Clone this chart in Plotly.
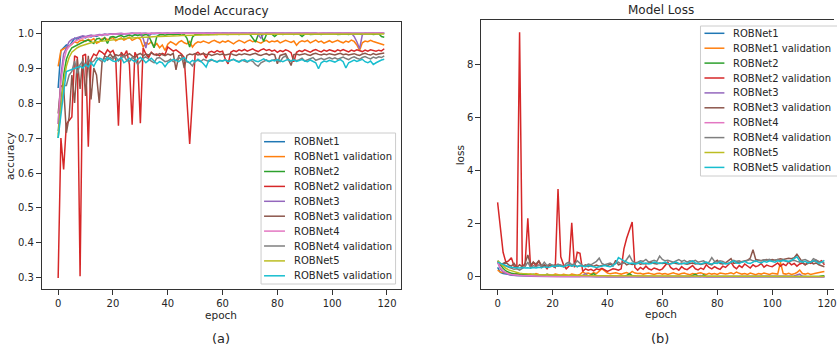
import plotly.graph_objects as go

W, H = 837, 350
FONT = "DejaVu Sans"
TXT = "#262626"

epochs = list(range(120))

series_names = ["ROBNet1", "ROBNet1 validation", "ROBNet2", "ROBNet2 validation",
                "ROBNet3", "ROBNet3 validation", "ROBNet4", "ROBNet4 validation",
                "ROBNet5", "ROBNet5 validation"]
series_colors = ["#1f77b4", "#ff7f0e", "#2ca02c", "#d62728", "#9467bd",
                 "#8c564b", "#e377c2", "#7f7f7f", "#bcbd22", "#17becf"]

# ---------------- accuracy ----------------
acc_r1 = [0.843, 0.950, 0.958, 0.966, 0.962, 0.975, 0.985, 0.982, 0.988, 0.990, 0.986, 0.991, 0.989, 0.993, 0.990, 0.994, 0.993, 0.996, 0.995, 0.997,
          0.996, 0.997, 0.998, 0.996, 0.998, 0.997, 0.998, 0.999, 0.997, 0.998, 0.999, 0.998, 0.999, 0.997, 0.999, 0.998, 0.999, 0.999, 0.998, 0.999,
          0.999, 0.998, 0.999, 0.999, 1.000, 0.999, 0.998, 0.999, 0.999, 1.000, 0.999, 0.999, 0.998, 0.999, 1.000, 0.999, 0.999, 1.000, 0.999, 0.999,
          1.000, 0.999, 0.999, 1.000, 0.999, 0.998, 0.999, 1.000, 0.999, 0.999, 1.000, 0.999, 0.999, 1.000, 0.999, 0.999, 1.000, 0.999, 0.998, 0.999,
          0.999, 1.000, 0.999, 0.999, 1.000, 0.999, 0.999, 1.000, 0.999, 0.999, 1.000, 0.999, 0.999, 1.000, 0.999, 0.998, 0.999, 1.000, 0.999, 0.999,
          1.000, 0.999, 0.999, 1.000, 0.999, 0.999, 1.000, 0.999, 0.999, 1.000, 0.999, 0.999, 1.000, 0.999, 0.999, 1.000, 0.999, 0.999, 1.000, 0.999]
acc_v1 = [0.905, 0.950, 0.955, 0.958, 0.962, 0.968, 0.975, 0.972, 0.978, 0.980, 0.976, 0.982, 0.979, 0.984, 0.971, 0.975, 0.983, 0.986, 0.981, 0.984,
          0.987, 0.978, 0.983, 0.986, 0.980, 0.985, 0.988, 0.979, 0.984, 0.987, 0.982, 0.960, 0.972, 0.968, 0.975, 0.962, 0.970, 0.958, 0.966, 0.950,
          0.968, 0.975, 0.971, 0.966, 0.974, 0.978, 0.972, 0.969, 0.976, 0.960, 0.970, 0.975, 0.973, 0.977, 0.974, 0.971, 0.976, 0.979, 0.975, 0.972,
          0.977, 0.974, 0.978, 0.973, 0.969, 0.975, 0.979, 0.976, 0.972, 0.977, 0.980, 0.975, 0.978, 0.974, 0.971, 0.976, 0.979, 0.973, 0.977, 0.975,
          0.978, 0.972, 0.975, 0.979, 0.976, 0.973, 0.977, 0.965, 0.974, 0.978, 0.975, 0.979, 0.972, 0.976, 0.980, 0.974, 0.977, 0.971, 0.975, 0.978,
          0.973, 0.976, 0.979, 0.975, 0.972, 0.977, 0.974, 0.980, 0.976, 0.966, 0.950, 0.972, 0.977, 0.975, 0.979, 0.976, 0.973, 0.970, 0.968, 0.966]
acc_r2 = [0.700, 0.800, 0.880, 0.925, 0.945, 0.958, 0.962, 0.968, 0.972, 0.975, 0.978, 0.980, 0.975, 0.970, 0.983, 0.985, 0.978, 0.987, 0.970, 0.988,
          0.990, 0.987, 0.991, 0.993, 0.989, 0.992, 0.994, 0.991, 0.995, 0.993, 0.995, 0.994, 0.996, 0.993, 0.975, 0.958, 0.990, 0.995, 0.996, 0.994,
          0.996, 0.997, 0.995, 0.996, 0.997, 0.994, 0.996, 0.985, 0.960, 0.988, 0.996, 0.997, 0.996, 0.998, 0.997, 0.996, 0.998, 0.997, 0.996, 0.998,
          0.997, 0.998, 0.996, 0.997, 0.998, 0.997, 0.996, 0.998, 0.997, 0.998, 0.996, 0.985, 0.974, 0.995, 0.997, 0.976, 0.996, 0.998, 0.997, 0.990,
          0.997, 0.998, 0.996, 0.997, 0.998, 0.997, 0.996, 0.998, 0.997, 0.990, 0.997, 0.998, 0.996, 0.997, 0.998, 0.997, 0.996, 0.998, 0.997, 0.998,
          0.997, 0.998, 0.996, 0.997, 0.998, 0.997, 0.996, 0.998, 0.997, 0.998, 0.997, 0.996, 0.998, 0.997, 0.998, 0.996, 0.997, 0.998, 0.990, 0.988]
acc_v2 = [0.300, 0.700, 0.610, 0.740, 0.750, 0.760, 0.935, 0.930, 0.305, 0.935, 0.940, 0.675, 0.925, 0.940, 0.935, 0.950, 0.945, 0.938, 0.952, 0.944,
          0.950, 0.930, 0.735, 0.945, 0.935, 0.950, 0.910, 0.738, 0.945, 0.930, 0.742, 0.958, 0.940, 0.930, 0.945, 0.938, 0.940, 0.935, 0.942, 0.938,
          0.960, 0.955, 0.948, 0.952, 0.945, 0.940, 0.930, 0.810, 0.683, 0.810, 0.940, 0.945, 0.938, 0.942, 0.928, 0.945, 0.948, 0.944, 0.950, 0.946,
          0.948, 0.925, 0.912, 0.945, 0.950, 0.947, 0.952, 0.949, 0.953, 0.948, 0.951, 0.955, 0.950, 0.947, 0.952, 0.955, 0.950, 0.953, 0.948, 0.951,
          0.945, 0.950, 0.947, 0.952, 0.949, 0.944, 0.918, 0.945, 0.950, 0.947, 0.952, 0.948, 0.945, 0.950, 0.953, 0.949, 0.946, 0.951, 0.948, 0.952,
          0.950, 0.947, 0.952, 0.949, 0.953, 0.950, 0.946, 0.951, 0.948, 0.952, 0.950, 0.947, 0.951, 0.948, 0.952, 0.950, 0.948, 0.951, 0.949, 0.955]
acc_r3 = [0.740, 0.880, 0.940, 0.960, 0.975, 0.982, 0.985, 0.988, 0.990, 0.992, 0.990, 0.993, 0.994, 0.992, 0.995, 0.996, 0.995, 0.997, 0.996, 0.997,
          0.998, 0.997, 0.998, 0.999, 0.998, 0.999, 0.998, 0.999, 0.999, 0.998, 0.999, 0.985, 0.957, 0.990, 0.998, 0.999, 0.999, 1.000, 0.999, 1.000,
          0.999, 1.000, 0.999, 1.000, 1.000, 0.999, 1.000, 0.999, 1.000, 1.000, 0.999, 1.000, 1.000, 0.999, 1.000, 1.000, 0.999, 1.000, 1.000, 0.999,
          1.000, 1.000, 0.999, 1.000, 1.000, 0.999, 1.000, 1.000, 0.999, 1.000, 1.000, 0.999, 1.000, 0.995, 0.985, 0.998, 1.000, 0.999, 1.000, 1.000,
          0.999, 1.000, 1.000, 0.999, 1.000, 1.000, 0.999, 1.000, 1.000, 0.999, 1.000, 1.000, 0.999, 1.000, 1.000, 0.999, 1.000, 1.000, 0.999, 1.000,
          1.000, 0.999, 1.000, 1.000, 0.999, 1.000, 1.000, 0.999, 0.990, 0.975, 0.955, 0.995, 1.000, 0.999, 1.000, 1.000, 0.999, 1.000, 1.000, 0.999]
acc_v3 = [0.770, 0.850, 0.845, 0.715, 0.760, 0.880, 0.800, 0.925, 0.840, 0.930, 0.820, 0.935, 0.810, 0.900, 0.880, 0.800, 0.915, 0.935, 0.930, 0.940,
          0.930, 0.938, 0.935, 0.940, 0.932, 0.937, 0.941, 0.935, 0.930, 0.938, 0.942, 0.935, 0.940, 0.937, 0.943, 0.939, 0.936, 0.941, 0.938, 0.935,
          0.940, 0.937, 0.942, 0.895, 0.935, 0.938, 0.900, 0.936, 0.940, 0.938, 0.941, 0.937, 0.939, 0.942, 0.938, 0.940, 0.936, 0.939, 0.941, 0.938,
          0.940, 0.937, 0.939, 0.941, 0.938, 0.936, 0.940, 0.938, 0.941, 0.939, 0.937, 0.940, 0.942, 0.938, 0.936, 0.939, 0.941, 0.937, 0.940, 0.938,
          0.912, 0.936, 0.939, 0.941, 0.925, 0.907, 0.938, 0.940, 0.937, 0.939, 0.941, 0.938, 0.936, 0.940, 0.942, 0.939, 0.937, 0.940, 0.938, 0.941,
          0.939, 0.937, 0.940, 0.942, 0.938, 0.940, 0.937, 0.939, 0.941, 0.938, 0.936, 0.940, 0.942, 0.939, 0.937, 0.941, 0.938, 0.940, 0.942, 0.943]
acc_r4 = [0.740, 0.860, 0.920, 0.950, 0.962, 0.970, 0.976, 0.980, 0.984, 0.986, 0.988, 0.990, 0.991, 0.992, 0.993, 0.994, 0.995, 0.995, 0.996, 0.996,
          0.997, 0.997, 0.998, 0.997, 0.998, 0.998, 0.999, 0.998, 0.999, 0.999, 0.998, 0.999, 0.999, 0.999, 1.000, 0.999, 0.999, 1.000, 0.999, 1.000,
          0.999, 1.000, 1.000, 0.999, 1.000, 0.999, 1.000, 1.000, 0.999, 1.000, 1.000, 0.999, 1.000, 1.000, 0.999, 1.000, 0.999, 1.000, 1.000, 0.999,
          1.000, 1.000, 0.999, 1.000, 0.999, 1.000, 1.000, 0.999, 1.000, 1.000, 0.999, 1.000, 1.000, 0.999, 1.000, 0.999, 1.000, 1.000, 0.999, 1.000,
          1.000, 0.999, 1.000, 1.000, 0.999, 1.000, 0.999, 1.000, 1.000, 0.999, 1.000, 1.000, 0.999, 1.000, 1.000, 0.999, 1.000, 0.999, 1.000, 1.000,
          0.999, 1.000, 1.000, 0.999, 1.000, 1.000, 0.999, 1.000, 0.999, 1.000, 1.000, 0.999, 1.000, 1.000, 0.999, 1.000, 1.000, 0.999, 1.000, 1.000]
acc_v4 = [0.720, 0.800, 0.850, 0.850, 0.880, 0.890, 0.920, 0.885, 0.910, 0.920, 0.905, 0.925, 0.915, 0.920, 0.930, 0.925, 0.918, 0.928, 0.922, 0.930,
          0.925, 0.932, 0.920, 0.928, 0.935, 0.922, 0.918, 0.930, 0.926, 0.910, 0.920, 0.928, 0.932, 0.925, 0.920, 0.915, 0.928, 0.930, 0.924, 0.918,
          0.920, 0.925, 0.918, 0.922, 0.930, 0.925, 0.920, 0.918, 0.915, 0.906, 0.920, 0.922, 0.918, 0.925, 0.921, 0.919, 0.923, 0.920, 0.918, 0.922,
          0.920, 0.924, 0.919, 0.922, 0.925, 0.921, 0.918, 0.923, 0.920, 0.917, 0.922, 0.919, 0.910, 0.905, 0.915, 0.920, 0.923, 0.918, 0.921, 0.924,
          0.920, 0.918, 0.930, 0.935, 0.922, 0.919, 0.925, 0.921, 0.924, 0.928, 0.920, 0.923, 0.926, 0.930, 0.922, 0.925, 0.928, 0.924, 0.927, 0.930,
          0.926, 0.929, 0.925, 0.928, 0.931, 0.927, 0.924, 0.929, 0.932, 0.928, 0.925, 0.930, 0.933, 0.929, 0.926, 0.931, 0.928, 0.932, 0.930, 0.935]
acc_r5 = [0.710, 0.780, 0.860, 0.905, 0.930, 0.945, 0.952, 0.958, 0.962, 0.965, 0.968, 0.970, 0.972, 0.974, 0.975, 0.977, 0.978, 0.979, 0.980, 0.981,
          0.982, 0.983, 0.983, 0.984, 0.985, 0.985, 0.986, 0.986, 0.987, 0.987, 0.988, 0.988, 0.988, 0.989, 0.989, 0.989, 0.990, 0.990, 0.990, 0.991,
          0.991, 0.991, 0.992, 0.992, 0.992, 0.993, 0.993, 0.993, 0.993, 0.994, 0.994, 0.994, 0.994, 0.995, 0.995, 0.995, 0.995, 0.995, 0.996, 0.996,
          0.996, 0.996, 0.996, 0.996, 0.996, 0.997, 0.997, 0.997, 0.997, 0.997, 0.997, 0.997, 0.997, 0.997, 0.998, 0.998, 0.998, 0.998, 0.998, 0.998,
          0.998, 0.998, 0.998, 0.998, 0.998, 0.998, 0.998, 0.998, 0.998, 0.998, 0.998, 0.998, 0.998, 0.998, 0.998, 0.998, 0.998, 0.998, 0.998, 0.998,
          0.998, 0.998, 0.998, 0.998, 0.998, 0.998, 0.998, 0.998, 0.998, 0.998, 0.998, 0.998, 0.998, 0.998, 0.998, 0.998, 0.998, 0.998, 0.997, 0.997]
acc_v5 = [0.700, 0.770, 0.830, 0.890, 0.893, 0.895, 0.897, 0.900, 0.905, 0.900, 0.910, 0.903, 0.915, 0.905, 0.920, 0.928, 0.925, 0.918, 0.930, 0.925,
          0.920, 0.918, 0.925, 0.930, 0.915, 0.920, 0.928, 0.922, 0.918, 0.925, 0.930, 0.924, 0.915, 0.922, 0.928, 0.920, 0.912, 0.918, 0.915, 0.904,
          0.915, 0.920, 0.925, 0.922, 0.918, 0.925, 0.930, 0.920, 0.915, 0.922, 0.918, 0.925, 0.920, 0.912, 0.903, 0.922, 0.925, 0.920, 0.917, 0.921,
          0.920, 0.923, 0.918, 0.922, 0.925, 0.920, 0.917, 0.921, 0.924, 0.919, 0.922, 0.925, 0.920, 0.918, 0.922, 0.926, 0.921, 0.919, 0.923, 0.920,
          0.924, 0.921, 0.918, 0.922, 0.925, 0.920, 0.923, 0.919, 0.921, 0.924, 0.920, 0.918, 0.923, 0.920, 0.915, 0.898, 0.915, 0.920, 0.918, 0.922,
          0.920, 0.917, 0.921, 0.924, 0.918, 0.900, 0.915, 0.920, 0.923, 0.919, 0.922, 0.925, 0.918, 0.915, 0.920, 0.910, 0.915, 0.920, 0.923, 0.925]

# ---------------- loss ----------------
loss_r1 = [0.35, 0.16, 0.12, 0.10, 0.08, 0.07, 0.06, 0.05, 0.045, 0.04, 0.035, 0.03, 0.03, 0.025, 0.028, 0.022, 0.02, 0.018, 0.02, 0.015,
           0.015, 0.012, 0.014, 0.01, 0.012, 0.01, 0.009, 0.011, 0.008, 0.01, 0.008, 0.009, 0.007, 0.008, 0.007, 0.009, 0.006, 0.007, 0.006, 0.008,
           0.006, 0.005, 0.007, 0.005, 0.004, 0.006, 0.005, 0.004, 0.005, 0.004, 0.006, 0.004, 0.005, 0.004, 0.003, 0.005, 0.004, 0.003, 0.004, 0.005,
           0.003, 0.004, 0.005, 0.003, 0.004, 0.006, 0.004, 0.003, 0.004, 0.005, 0.003, 0.004, 0.003, 0.004, 0.005, 0.003, 0.004, 0.003, 0.005, 0.004,
           0.003, 0.004, 0.003, 0.005, 0.004, 0.003, 0.004, 0.003, 0.004, 0.005, 0.003, 0.004, 0.003, 0.004, 0.003, 0.005, 0.004, 0.003, 0.004, 0.003,
           0.004, 0.003, 0.004, 0.003, 0.005, 0.004, 0.003, 0.004, 0.003, 0.004, 0.003, 0.004, 0.003, 0.004, 0.003, 0.004, 0.003, 0.004, 0.003, 0.004]
loss_v1 = [0.25, 0.18, 0.16, 0.15, 0.13, 0.12, 0.10, 0.12, 0.09, 0.10, 0.11, 0.08, 0.10, 0.07, 0.12, 0.09, 0.07, 0.06, 0.09, 0.07,
           0.06, 0.10, 0.08, 0.06, 0.09, 0.07, 0.05, 0.10, 0.08, 0.06, 0.09, 0.18, 0.12, 0.14, 0.10, 0.16, 0.12, 0.20, 0.30, 0.22,
           0.14, 0.11, 0.13, 0.15, 0.12, 0.10, 0.13, 0.16, 0.11, 0.20, 0.14, 0.12, 0.13, 0.10, 0.12, 0.14, 0.11, 0.09, 0.12, 0.13,
           0.10, 0.12, 0.09, 0.13, 0.15, 0.11, 0.09, 0.12, 0.14, 0.10, 0.08, 0.12, 0.10, 0.13, 0.15, 0.11, 0.09, 0.13, 0.10, 0.12,
           0.09, 0.14, 0.12, 0.10, 0.12, 0.15, 0.11, 0.18, 0.13, 0.10, 0.12, 0.09, 0.14, 0.11, 0.08, 0.12, 0.10, 0.14, 0.12, 0.09,
           0.13, 0.11, 0.10, 0.55, 0.12, 0.10, 0.13, 0.09, 0.11, 0.16, 0.25, 0.12, 0.10, 0.13, 0.09, 0.11, 0.14, 0.16, 0.18, 0.20]
loss_r2 = [0.60, 0.45, 0.32, 0.22, 0.16, 0.13, 0.11, 0.10, 0.09, 0.08, 0.07, 0.065, 0.07, 0.09, 0.055, 0.05, 0.07, 0.045, 0.09, 0.04,
           0.035, 0.04, 0.03, 0.025, 0.035, 0.028, 0.022, 0.03, 0.02, 0.025, 0.02, 0.022, 0.018, 0.025, 0.07, 0.12, 0.035, 0.02, 0.015, 0.018,
           0.014, 0.012, 0.016, 0.013, 0.011, 0.017, 0.013, 0.045, 0.12, 0.04, 0.013, 0.01, 0.012, 0.009, 0.011, 0.012, 0.008, 0.01, 0.011, 0.009,
           0.01, 0.008, 0.011, 0.009, 0.008, 0.01, 0.011, 0.008, 0.009, 0.007, 0.011, 0.05, 0.09, 0.02, 0.009, 0.07, 0.012, 0.008, 0.009, 0.03,
           0.009, 0.007, 0.01, 0.008, 0.007, 0.009, 0.01, 0.007, 0.008, 0.03, 0.009, 0.007, 0.01, 0.008, 0.007, 0.009, 0.01, 0.007, 0.008, 0.007,
           0.009, 0.007, 0.01, 0.008, 0.007, 0.009, 0.01, 0.007, 0.008, 0.007, 0.009, 0.01, 0.007, 0.008, 0.007, 0.01, 0.009, 0.007, 0.03, 0.035]
loss_v2 = [2.80, 1.90, 0.92, 0.55, 0.60, 0.72, 0.40, 0.35, 9.20, 0.40, 0.45, 2.20, 0.35, 0.55, 0.40, 0.60, 0.35, 0.42, 0.30, 0.45,
           0.40, 0.35, 3.30, 0.75, 0.45, 0.30, 0.40, 2.03, 0.35, 0.92, 0.88, 0.20, 0.30, 0.25, 0.28, 0.22, 0.30, 0.27, 0.32, 0.25,
           0.20, 0.25, 0.30, 0.28, 0.25, 0.30, 1.05, 1.45, 1.75, 2.06, 0.35, 0.25, 0.35, 0.28, 0.40, 0.30, 0.26, 0.33, 0.29, 0.25,
           0.30, 0.45, 0.55, 0.35, 0.28, 0.32, 0.25, 0.38, 0.30, 0.27, 0.35, 0.42, 0.30, 0.26, 0.33, 0.28, 0.45, 0.35, 0.30, 0.38,
           0.32, 0.28, 0.40, 0.35, 0.45, 0.55, 0.38, 0.30, 0.42, 0.35, 0.48, 0.40, 0.33, 0.45, 0.38, 0.42, 0.50, 0.36, 0.44, 0.40,
           0.38, 0.45, 0.52, 0.40, 0.48, 0.42, 0.55, 0.45, 0.50, 0.40, 0.48, 0.52, 0.45, 0.55, 0.50, 0.58, 0.62, 0.55, 0.60, 0.45]
loss_r3 = [0.55, 0.30, 0.18, 0.12, 0.08, 0.06, 0.05, 0.04, 0.035, 0.03, 0.03, 0.025, 0.022, 0.025, 0.018, 0.015, 0.016, 0.012, 0.013, 0.01,
           0.01, 0.012, 0.009, 0.008, 0.01, 0.007, 0.009, 0.007, 0.006, 0.008, 0.006, 0.05, 0.12, 0.03, 0.008, 0.006, 0.005, 0.006, 0.004, 0.005,
           0.004, 0.005, 0.004, 0.003, 0.004, 0.005, 0.003, 0.004, 0.003, 0.004, 0.003, 0.004, 0.003, 0.003, 0.004, 0.003, 0.004, 0.003, 0.003, 0.004,
           0.003, 0.003, 0.004, 0.003, 0.003, 0.004, 0.003, 0.003, 0.004, 0.003, 0.003, 0.004, 0.003, 0.02, 0.05, 0.008, 0.003, 0.004, 0.003, 0.003,
           0.004, 0.003, 0.003, 0.004, 0.003, 0.003, 0.004, 0.003, 0.003, 0.004, 0.003, 0.003, 0.004, 0.003, 0.003, 0.004, 0.003, 0.003, 0.004, 0.003,
           0.003, 0.004, 0.003, 0.003, 0.004, 0.003, 0.003, 0.004, 0.03, 0.07, 0.10, 0.02, 0.004, 0.003, 0.003, 0.004, 0.003, 0.003, 0.004, 0.003]
loss_v3 = [0.55, 0.45, 0.50, 0.55, 0.45, 0.40, 0.50, 0.35, 0.45, 0.38, 0.50, 0.82, 0.45, 0.55, 0.48, 0.60, 0.42, 0.45, 0.40, 0.48,
           0.42, 0.45, 0.40, 0.44, 0.38, 0.42, 0.46, 0.40, 0.44, 0.38, 0.42, 0.40, 0.45, 0.38, 0.42, 0.40, 0.44, 0.40, 0.42, 0.45,
           0.42, 0.48, 0.40, 0.62, 0.45, 0.48, 0.55, 0.45, 0.50, 0.46, 0.48, 0.52, 0.47, 0.50, 0.48, 0.52, 0.55, 0.50, 0.48, 0.52,
           0.50, 0.52, 0.48, 0.50, 0.53, 0.50, 0.48, 0.52, 0.50, 0.47, 0.50, 0.52, 0.48, 0.50, 0.46, 0.50, 0.52, 0.48, 0.45, 0.55,
           0.62, 0.50, 0.48, 0.52, 0.60, 0.68, 0.50, 0.52, 0.55, 0.58, 0.60, 0.62, 0.70, 1.02, 0.65, 0.62, 0.60, 0.63, 0.65, 0.62,
           0.65, 0.62, 0.66, 0.68, 0.65, 0.67, 0.70, 0.68, 0.72, 0.85, 0.70, 0.55, 0.45, 0.50, 0.55, 0.48, 0.52, 0.45, 0.42, 0.38]
loss_r4 = [0.55, 0.35, 0.22, 0.15, 0.11, 0.09, 0.07, 0.06, 0.05, 0.045, 0.04, 0.035, 0.03, 0.028, 0.025, 0.022, 0.02, 0.018, 0.016, 0.015,
           0.014, 0.013, 0.012, 0.012, 0.011, 0.01, 0.01, 0.009, 0.009, 0.008, 0.008, 0.008, 0.007, 0.007, 0.007, 0.006, 0.006, 0.006, 0.006, 0.005,
           0.005, 0.005, 0.005, 0.005, 0.005, 0.004, 0.004, 0.004, 0.004, 0.004, 0.004, 0.004, 0.004, 0.003, 0.003, 0.003, 0.003, 0.003, 0.003, 0.003,
           0.003, 0.003, 0.003, 0.003, 0.003, 0.003, 0.003, 0.003, 0.003, 0.003, 0.003, 0.003, 0.003, 0.003, 0.003, 0.003, 0.003, 0.003, 0.003, 0.003,
           0.003, 0.003, 0.003, 0.003, 0.003, 0.003, 0.003, 0.003, 0.003, 0.003, 0.003, 0.003, 0.003, 0.003, 0.003, 0.003, 0.003, 0.003, 0.003, 0.003,
           0.003, 0.003, 0.003, 0.003, 0.003, 0.003, 0.003, 0.003, 0.003, 0.003, 0.003, 0.003, 0.003, 0.003, 0.003, 0.003, 0.003, 0.003, 0.003, 0.003]
loss_v4 = [0.60, 0.50, 0.45, 0.40, 0.35, 0.30, 0.28, 0.30, 0.25, 0.32, 0.38, 0.55, 0.35, 0.42, 0.38, 0.45, 0.40, 0.55, 0.42, 0.48,
           0.45, 0.40, 0.48, 0.42, 0.38, 0.50, 0.55, 0.45, 0.48, 0.60, 0.50, 0.42, 0.40, 0.48, 0.45, 0.52, 0.58, 0.70, 0.50, 0.45,
           0.48, 0.52, 0.46, 0.50, 0.55, 0.48, 0.52, 0.65, 0.80, 0.60, 0.52, 0.55, 0.60, 0.58, 0.65, 0.55, 0.60, 0.62, 0.58, 0.78,
           0.65, 0.60, 0.62, 0.58, 0.55, 0.60, 0.65, 0.58, 0.62, 0.55, 0.60, 0.58, 0.62, 0.55, 0.58, 0.60, 0.52, 0.55, 0.72, 0.58,
           0.55, 0.60, 0.58, 0.52, 0.50, 0.55, 0.62, 0.58, 0.60, 0.55, 0.58, 0.62, 0.65, 0.60, 0.58, 0.62, 0.60, 0.64, 0.62, 0.66,
           0.60, 0.62, 0.65, 0.60, 0.62, 0.58, 0.55, 0.60, 0.62, 0.58, 0.55, 0.62, 0.65, 0.60, 0.55, 0.68, 0.62, 0.58, 0.55, 0.52]
loss_r5 = [0.60, 0.50, 0.40, 0.32, 0.26, 0.22, 0.18, 0.15, 0.13, 0.12, 0.11, 0.10, 0.095, 0.09, 0.085, 0.08, 0.078, 0.075, 0.072, 0.07,
           0.068, 0.065, 0.063, 0.06, 0.058, 0.056, 0.055, 0.053, 0.052, 0.05, 0.049, 0.048, 0.046, 0.045, 0.044, 0.043, 0.042, 0.041, 0.04, 0.039,
           0.038, 0.037, 0.036, 0.036, 0.035, 0.034, 0.033, 0.033, 0.032, 0.031, 0.031, 0.030, 0.030, 0.029, 0.028, 0.028, 0.027, 0.027, 0.026, 0.026,
           0.025, 0.025, 0.024, 0.024, 0.024, 0.023, 0.023, 0.022, 0.022, 0.022, 0.021, 0.021, 0.021, 0.020, 0.020, 0.020, 0.019, 0.019, 0.019, 0.019,
           0.018, 0.018, 0.018, 0.018, 0.017, 0.017, 0.017, 0.017, 0.017, 0.016, 0.016, 0.016, 0.016, 0.016, 0.015, 0.015, 0.015, 0.015, 0.015, 0.015,
           0.014, 0.014, 0.014, 0.014, 0.014, 0.014, 0.014, 0.013, 0.013, 0.013, 0.013, 0.013, 0.013, 0.013, 0.013, 0.012, 0.012, 0.012, 0.012, 0.012]
loss_v5 = [0.55, 0.50, 0.45, 0.40, 0.38, 0.36, 0.35, 0.34, 0.33, 0.35, 0.33, 0.34, 0.32, 0.35, 0.33, 0.36, 0.34, 0.38, 0.35, 0.37,
           0.40, 0.38, 0.42, 0.40, 0.38, 0.42, 0.45, 0.40, 0.43, 0.38, 0.42, 0.40, 0.38, 0.42, 0.40, 0.38, 0.35, 0.38, 0.40, 0.42,
           0.40, 0.38, 0.42, 0.50, 0.72, 0.65, 0.60, 0.55, 0.50, 0.52, 0.48, 0.50, 0.55, 0.50, 0.52, 0.48, 0.50, 0.55, 0.52, 0.50,
           0.52, 0.55, 0.50, 0.48, 0.52, 0.55, 0.50, 0.48, 0.52, 0.50, 0.55, 0.60, 0.52, 0.50, 0.48, 0.52, 0.55, 0.50, 0.48, 0.52,
           0.50, 0.55, 0.52, 0.48, 0.50, 0.55, 0.60, 0.52, 0.50, 0.55, 0.58, 0.52, 0.50, 0.55, 0.60, 0.55, 0.52, 0.58, 0.55, 0.60,
           0.58, 0.55, 0.60, 0.58, 0.62, 0.60, 0.58, 0.62, 0.70, 0.75, 0.60, 0.55, 0.58, 0.52, 0.55, 0.60, 0.58, 0.50, 0.55, 0.62]

acc_series = [acc_r1, acc_v1, acc_r2, acc_v2, acc_r3, acc_v3, acc_r4, acc_v4, acc_r5, acc_v5]
loss_series = [loss_r1, loss_v1, loss_r2, loss_v2, loss_r3, loss_v3, loss_r4, loss_v4, loss_r5, loss_v5]

acc_yticks = [0.3, 0.4, 0.5, 0.6, 0.7, 0.8, 0.9, 1.0]
loss_yticks = [0, 2, 4, 6, 8]
epoch_ticks = [0, 20, 40, 60, 80, 100, 120]


def px(x):
    return x / W


def py(y):
    return 1 - y / H


fig = go.Figure()
for name, col, ys in zip(series_names, series_colors, acc_series):
    fig.add_trace(go.Scatter(x=epochs, y=ys, name=name, mode="lines",
                             line=dict(color=col, width=1.5), xaxis="x", yaxis="y",
                             showlegend=False))
for name, col, ys in zip(series_names, series_colors, loss_series):
    fig.add_trace(go.Scatter(x=epochs, y=ys, name=name, mode="lines",
                             line=dict(color=col, width=1.5), xaxis="x2", yaxis="y2",
                             showlegend=False))

axis_common = dict(showgrid=False, zeroline=False, showline=True, linecolor="#333333",
                   linewidth=1, ticks="outside", ticklen=5, tickwidth=1, tickcolor="#333333",
                   tickfont=dict(family=FONT, size=10, color=TXT))

fig.update_layout(
    width=W, height=H, autosize=False,
    margin=dict(l=0, r=0, t=0, b=0),
    paper_bgcolor="white", plot_bgcolor="white",
    font=dict(family=FONT, color=TXT),
    xaxis=dict(domain=[px(42), px(402)], range=[-5.95, 124.95], tickvals=epoch_ticks,
               mirror=True, anchor="y", **axis_common),
    yaxis=dict(domain=[py(289), py(22)], range=[0.2685, 1.0315], tickvals=acc_yticks,
               tickformat=".1f", mirror=True, anchor="x", **axis_common),
    xaxis2=dict(domain=[px(483), 1.0], range=[-5.95, 122.5], tickvals=epoch_ticks,
                mirror=True, anchor="y2", ticklabeloverflow="allow", **axis_common),
    yaxis2=dict(domain=[py(289), py(20)], range=[-0.46, 9.66], tickvals=loss_yticks,
                mirror=False, anchor="x2", **axis_common),
)

annotations = []
shapes = []


def text(x, y, s, size=10, angle=0, xanchor="center"):
    annotations.append(dict(x=px(x), y=py(y), xref="paper", yref="paper", text=s,
                            showarrow=False, xanchor=xanchor, yanchor="middle",
                            textangle=angle, font=dict(family=FONT, size=size, color=TXT)))


text(222, 11, "Model Accuracy", 12)
text(663, 10, "Model Loss", 12)
text(10, 156, "accuracy", 10.5, angle=-90)
text(462, 155, "loss", 10.5, angle=-90)
text(222, 315, "epoch", 10.5)
text(663, 314, "epoch", 10.5)
text(222, 338, "(a)", 13)
text(662, 338, "(b)", 13)


def legend(x0, y0, x1, y1, first_y, step, lx0, lx1, tx):
    shapes.append(dict(type="rect", xref="paper", yref="paper",
                       x0=px(x0), x1=px(x1), y0=py(y1), y1=py(y0),
                       line=dict(color="#cccccc", width=1), fillcolor="rgba(255,255,255,0.85)",
                       layer="above"))
    for i, (name, col) in enumerate(zip(series_names, series_colors)):
        yy = first_y + i * step
        shapes.append(dict(type="line", xref="paper", yref="paper",
                           x0=px(lx0), x1=px(lx1), y0=py(yy), y1=py(yy),
                           line=dict(color=col, width=1.5), layer="above"))
        text(tx, yy, name, 10, xanchor="left")


legend(262, 133, 397, 284, 141.7, 14.9, 265, 286, 293)
legend(703, 26, 845, 176, 33.3, 14.9, 707, 727, 734)

fig.update_layout(annotations=annotations, shapes=shapes)
fig.write_html("out.html", config={"displayModeBar": False},
               post_script="document.body.style.margin='0';document.body.style.overflow='hidden';")
